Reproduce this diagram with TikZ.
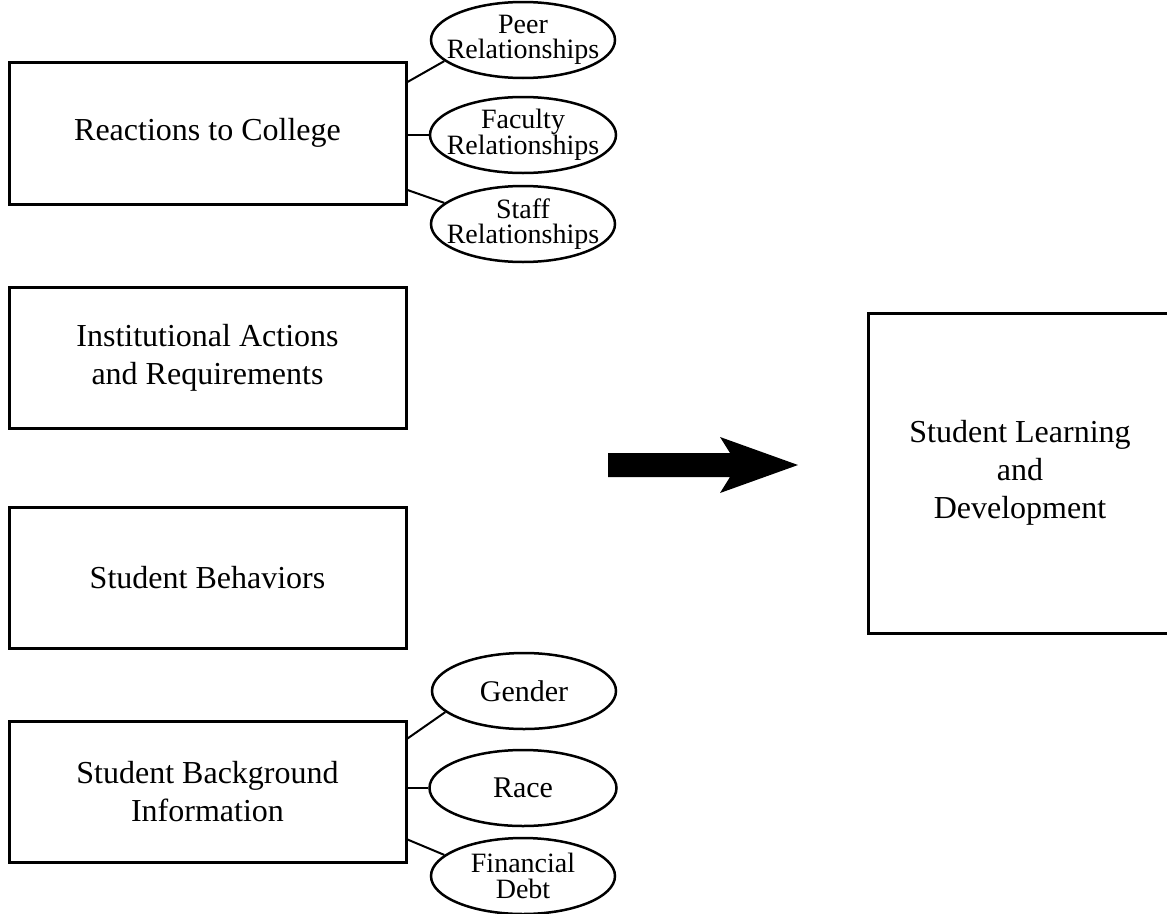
\documentclass[tikz,border=0pt]{standalone}
\usepackage{fontspec}
\setmainfont{Liberation Serif}
\usetikzlibrary{calc,shapes.geometric}

\tikzset{
  factorbox/.style={draw, line width=3pt, rectangle, inner sep=0pt, align=center,
    font=\fontsize{32}{38}\selectfont},
  itemoval/.style={draw, line width=2.5pt, ellipse, inner sep=0pt,
    minimum width=184pt, minimum height=76pt},
  ovaltext/.style={align=center, inner sep=0pt, font=\fontsize{28}{25.5}\selectfont},
  bigovaltext/.style={align=center, inner sep=0pt, font=\fontsize{30}{26}\selectfont},
  link/.style={line width=2pt}
}

\begin{document}
\begin{tikzpicture}[x=1pt, y=-1pt]
  \useasboundingbox (0,0) rectangle (1167,913);

  % four contributing factors
  \node[factorbox, minimum width=397pt, minimum height=142pt] (react) at (207.5,133)
    {Reactions to College};
  \node[factorbox, minimum width=397pt, minimum height=141pt] (inst) at (207.5,357.5)
    {Institutional Actions\\and Requirements};
  \node[factorbox, minimum width=397pt, minimum height=141pt] (behav) at (207.5,577.5)
    {Student Behaviors};
  \node[factorbox, minimum width=397pt, minimum height=141pt] (backg) at (207.5,791.5)
    {Student Background\\Information};

  % outcome
  \node[factorbox, minimum width=304pt, minimum height=320pt] (outcome) at (1020,473)
    {Student Learning\\and\\Development};

  % relationship ovals (text set as centred labels so the oval keeps its size)
  \node[itemoval, label={[ovaltext]center:Peer\\Relationships}] (peer) at (523,40) {};
  \node[itemoval, minimum width=186pt, label={[ovaltext]center:Faculty\\Relationships}] (fac) at (523,135) {};
  \node[itemoval, label={[ovaltext]center:Staff\\Relationships}] (staff) at (523,224) {};

  % background ovals
  \node[itemoval, label={[bigovaltext]center:Gender}] (gender) at (524,691) {};
  \node[itemoval, minimum width=187pt, label={[bigovaltext]center:Race}] (race) at (523,788) {};
  \node[itemoval, label={[ovaltext]center:Financial\\Debt}] (debt) at (523,876) {};

  % links from boxes to ovals
  \draw[link] ($(react.east)+(0,-51)$) -- (peer.195);
  \draw[link] (fac.west -| react.east) -- (fac.west);
  \draw[link] ($(react.east)+(0,57)$) -- (staff.165);

  \draw[link] ($(backg.east)+(0,-53)$) -- (gender.195);
  \draw[link] (race.west -| backg.east) -- (race.west);
  \draw[link] ($(backg.east)+(0,48)$) -- (debt.165);

  % block arrow towards the outcome
  \fill (608,453) -- (730,453) -- (720,437) -- (798,465) -- (720,493)
    -- (730,477) -- (608,477) -- cycle;
\end{tikzpicture}
\end{document}
